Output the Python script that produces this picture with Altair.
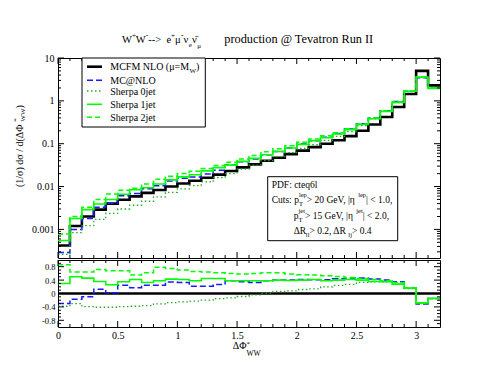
import altair as alt
import pandas as pd

FONT = "'Liberation Serif', 'Times New Roman', Times, serif"

# ---------------- data ----------------
bin_lo = [0.0, 0.1, 0.2, 0.3, 0.4, 0.5, 0.6, 0.7, 0.8, 0.9, 1.0, 1.1, 1.2, 1.3, 1.4, 1.5,
          1.6, 1.7, 1.8, 1.9, 2.0, 2.1, 2.2, 2.3, 2.4, 2.5, 2.6, 2.7, 2.8, 2.9, 3.0, 3.1]
x_end = 3.2

mcfm = [0.00042, 0.0012, 0.0020, 0.0029, 0.0040, 0.0049, 0.0059, 0.0071, 0.0083, 0.0100,
        0.0118, 0.0137, 0.0160, 0.0190, 0.0230, 0.0280, 0.0330, 0.0400, 0.0470, 0.0570,
        0.0690, 0.0830, 0.100, 0.120, 0.150, 0.200, 0.280, 0.420, 0.720, 1.45, 5.0, 2.3]
mcnlo = [0.00029, 0.0010, 0.0018, 0.0033, 0.0041, 0.0061, 0.0069, 0.0089, 0.0104, 0.0134,
         0.0157, 0.0167, 0.0195, 0.0241, 0.0317, 0.0378, 0.0439, 0.0552, 0.0658, 0.0798,
         0.0980, 0.117, 0.141, 0.173, 0.219, 0.292, 0.400, 0.588, 0.972, 1.68, 3.45, 1.96]
sherpa0 = [0.00026, 0.00084, 0.00122, 0.00171, 0.00236, 0.00299, 0.00366, 0.00454, 0.00573, 0.0073,
           0.00885, 0.01055, 0.0128, 0.0162, 0.0200, 0.0255, 0.0317, 0.0404, 0.0498, 0.0616,
           0.0773, 0.0946, 0.120, 0.149, 0.191, 0.266, 0.378, 0.567, 0.914, 1.67, 3.5, 1.96]
sherpa1 = [0.00055, 0.0018, 0.0029, 0.0039, 0.0050, 0.0066, 0.0084, 0.0094, 0.0115, 0.0143,
           0.0168, 0.0189, 0.0232, 0.0276, 0.0317, 0.0386, 0.0455, 0.0552, 0.0658, 0.0792,
           0.0966, 0.118, 0.138, 0.168, 0.213, 0.280, 0.381, 0.567, 0.922, 1.68, 3.6, 1.96]
sherpa2 = [0.00078, 0.0020, 0.0033, 0.0050, 0.0067, 0.0082, 0.0091, 0.0115, 0.0148, 0.0175,
           0.0201, 0.0227, 0.0262, 0.0308, 0.0368, 0.0442, 0.0528, 0.0648, 0.0761, 0.0901,
           0.108, 0.129, 0.153, 0.181, 0.222, 0.290, 0.398, 0.580, 0.958, 1.70, 3.6, 1.98]

r_mcnlo = [-0.30, -0.17, -0.10, 0.13, 0.02, 0.25, 0.17, 0.25, 0.25, 0.34, 0.33, 0.22, 0.22, 0.27, 0.38, 0.35,
           0.33, 0.38, 0.40, 0.40, 0.42, 0.41, 0.41, 0.44, 0.46, 0.46, 0.43, 0.40, 0.35, 0.16, -0.31, -0.15]
r_sherpa0 = [-0.38, -0.30, -0.39, -0.41, -0.41, -0.39, -0.38, -0.36, -0.31, -0.27, -0.25, -0.23, -0.20, -0.15, -0.13, -0.09,
             -0.04, 0.01, 0.06, 0.08, 0.12, 0.14, 0.20, 0.24, 0.27, 0.33, 0.35, 0.35, 0.27, 0.15, -0.30, -0.15]
r_sherpa1 = [0.30, 0.50, 0.46, 0.36, 0.26, 0.35, 0.42, 0.33, 0.38, 0.43, 0.42, 0.38, 0.45, 0.45, 0.38, 0.38,
             0.38, 0.38, 0.40, 0.39, 0.40, 0.42, 0.38, 0.40, 0.42, 0.40, 0.36, 0.35, 0.28, 0.16, -0.28, -0.15]
r_sherpa2 = [0.86, 0.64, 0.64, 0.72, 0.68, 0.68, 0.55, 0.62, 0.78, 0.75, 0.70, 0.66, 0.64, 0.62, 0.60, 0.58,
             0.60, 0.62, 0.62, 0.58, 0.56, 0.55, 0.53, 0.51, 0.48, 0.45, 0.42, 0.38, 0.33, 0.17, -0.28, -0.14]

series_names = ["MCFM NLO", "MC@NLO", "Sherpa 0jet", "Sherpa 1jet", "Sherpa 2jet"]

x_major = [0, 0.5, 1, 1.5, 2, 2.5, 3]
x_minor = [0.1, 0.2, 0.3, 0.4, 0.6, 0.7, 0.8, 0.9, 1.1, 1.2, 1.3, 1.4, 1.6, 1.7, 1.8, 1.9,
           2.1, 2.2, 2.3, 2.4, 2.6, 2.7, 2.8, 2.9, 3.1]
y_major = [0.001, 0.01, 0.1, 1, 10]
y_minor = [m * 10.0 ** k for k in range(-4, 1) for m in range(2, 10) if m * 10.0 ** k > 0.000215]
r_major = [-0.8, -0.4, 0, 0.4, 0.8]
r_minor = [-0.9, -0.7, -0.6, -0.5, -0.3, -0.2, -0.1, 0.1, 0.2, 0.3, 0.5, 0.6, 0.7, 0.9]

# ---------------- styles ----------------
STYLE = {
    "MCFM NLO": dict(color="black", strokeWidth=2.6),
    "MC@NLO": dict(color="#1a1aff", strokeWidth=1.5, strokeDash=[6, 3]),
    "Sherpa 0jet": dict(color="#22aa22", strokeWidth=1.3, strokeDash=[1.5, 2.5]),
    "Sherpa 1jet": dict(color="#00ff00", strokeWidth=1.6),
    "Sherpa 2jet": dict(color="#00ff00", strokeWidth=1.5, strokeDash=[5, 3]),
}

W = 382
H_TOP = 200
H_BOT = 67
TOP_O = (57, 58)
BOT_O = (57, 258)

CW = {' ': 0.25, '(': 0.333, ')': 0.333, '*': 0.5, '+': 0.564, ',': 0.25, '-': 0.333, '.': 0.25,
      '/': 0.278, ':': 0.278, '<': 0.564, '=': 0.564, '>': 0.564, '@': 0.921, '|': 0.2,
      'C': 0.667, 'D': 0.722, 'F': 0.556, 'G': 0.722, 'I': 0.333, 'L': 0.611, 'M': 0.889,
      'N': 0.722, 'O': 0.722, 'P': 0.556, 'R': 0.667, 'S': 0.556, 'T': 0.611, 'V': 0.722,
      'W': 0.944, 'a': 0.444, 'c': 0.444, 'd': 0.5, 'e': 0.444, 'h': 0.5, 'i': 0.278,
      'j': 0.278, 'l': 0.278, 'n': 0.5, 'o': 0.5, 'p': 0.5, 'q': 0.5, 'r': 0.333, 's': 0.389,
      't': 0.278, 'u': 0.5, 'v': 0.5, 'Δ': 0.612, 'Φ': 0.763, 'η': 0.5, 'μ': 0.576,
      'ν': 0.5, 'σ': 0.549, '\u0304': 0.0}


def tw(s, size):
    return sum(CW.get(c, 0.5) for c in s) * size


def place(segs, x0, y0, origin, rot=False):
    out = []
    adv = 0.0
    for seg in segs:
        group = seg if isinstance(seg, list) else [seg]
        wmax = 0.0
        for (t, s, dy) in group:
            if rot:
                out.append((t, x0 + dy - origin[0], y0 - adv - origin[1], s, 270))
            else:
                out.append((t, x0 + adv - origin[0], y0 + dy - origin[1], s, 0))
            wmax = max(wmax, tw(t, s))
        adv += wmax
    return out


def txt(t, x, y, size, angle=0):
    return alt.Chart(pd.DataFrame({"t": [t]})).mark_text(
        align="left", baseline="alphabetic", font=FONT, color="black"
    ).encode(x=alt.value(x), y=alt.value(y), text="t:N",
             size=alt.value(size), angle=alt.value(angle))


def steps(vals):
    return pd.DataFrame({"x": bin_lo + [x_end], "y": list(vals) + [vals[-1]]})


def line_layer(vals, name, X, Y):
    st = STYLE[name]
    kw = dict(interpolate="step-after", color=st["color"], strokeWidth=st["strokeWidth"])
    if "strokeDash" in st:
        kw["strokeDash"] = st["strokeDash"]
    return alt.Chart(steps(vals)).mark_line(**kw).encode(x=X, y=Y)


def rule_value(x1, x2, y, st):
    kw = dict(color=st["color"], strokeWidth=st["strokeWidth"])
    if "strokeDash" in st:
        kw["strokeDash"] = st["strokeDash"]
    return alt.Chart(pd.DataFrame({"k": [0]})).mark_rule(**kw).encode(
        x=alt.value(x1), x2=alt.value(x2), y=alt.value(y))


def box(x1, x2, y1, y2, origin):
    return alt.Chart(pd.DataFrame({"k": [0]})).mark_rect(
        fill="white", stroke="black", strokeWidth=1).encode(
        x=alt.value(x1 - origin[0]), x2=alt.value(x2 - origin[0]),
        y=alt.value(y1 - origin[1]), y2=alt.value(y2 - origin[1]))


def tick_layers(X, Y, xmaj, xmin, ymaj, ymin, H):
    layers = []
    for vals, ln in ((xmaj, 6), (xmin, 3)):
        d = pd.DataFrame({"x": vals})
        layers.append(alt.Chart(d).mark_rule(color="black", strokeWidth=1).encode(
            x=X, y=alt.value(H), y2=alt.value(H - ln)))
        layers.append(alt.Chart(d).mark_rule(color="black", strokeWidth=1).encode(
            x=X, y=alt.value(0), y2=alt.value(ln)))
    for vals, ln in ((ymaj, 6), (ymin, 3)):
        d = pd.DataFrame({"y": vals})
        layers.append(alt.Chart(d).mark_rule(color="black", strokeWidth=1).encode(
            y=Y, x=alt.value(0), x2=alt.value(ln)))
        layers.append(alt.Chart(d).mark_rule(color="black", strokeWidth=1).encode(
            y=Y, x=alt.value(W), x2=alt.value(W - ln)))
    return layers


# ---------------- top panel ----------------
xs = alt.Scale(domain=[0, x_end], nice=False, zero=False)
ys_top = alt.Scale(type="log", domain=[0.000215, 10], nice=False)
X_top = alt.X("x:Q", scale=xs, axis=None)
Y_top = alt.Y("y:Q", scale=ys_top, axis=alt.Axis(
    values=y_major, format="~g", ticks=False, domain=False, grid=False,
    labelFont=FONT, labelFontSize=10, labelPadding=4, labelColor="black", title=None))

top_layers = []
for vals, name in zip([mcfm, mcnlo, sherpa0, sherpa1, sherpa2], series_names):
    top_layers.append(line_layer(vals, name, X_top, Y_top))
top_layers += tick_layers(X_top, Y_top, x_major, x_minor, y_major, y_minor, H_TOP)

# legend
top_layers.append(box(81, 204.3, 58, 127, TOP_O))
leg_y = [66.7, 80.3, 91.0, 104.3, 117.3]
leg_labels = [
    [("MCFM NLO (μ=M", 10, 0), ("W", 7, 2.5), (")", 10, 0)],
    [("MC@NLO", 10, 0)],
    [("Sherpa 0jet", 10, 0)],
    [("Sherpa 1jet", 10, 0)],
    [("Sherpa 2jet", 10, 0)],
]
for name, yy, lab in zip(series_names, leg_y, leg_labels):
    top_layers.append(rule_value(86 - TOP_O[0], 101 - TOP_O[0], yy - TOP_O[1], STYLE[name]))
    for o in place(lab, 109.3, yy + 3.5, TOP_O):
        top_layers.append(txt(*o))

# info box
top_layers.append(box(266.7, 396.7, 176.7, 240.7, TOP_O))
info = []
info += place([("PDF: cteq6l", 9.5, 0)], 270.7, 187.5, TOP_O)
info += place([("Cuts: p", 9.5, 0), [("lep", 6.5, -6.5), ("T", 6.5, 3)],
               (" > 20 GeV, |η", 9.5, 0), ("lep", 6.5, -6.5), ("| < 1.0,", 9.5, 0)],
              270.7, 203, TOP_O)
info += place([("p", 9.5, 0), [("jet", 6.5, -6.5), ("T", 6.5, 3)],
               (" > 15 GeV, |η", 9.5, 0), ("jet", 6.5, -6.5), ("| < 2.0,", 9.5, 0)],
              292.7, 219, TOP_O)
info += place([("ΔR", 9.5, 0), ("ll", 6.5, 3), (" > 0.2, ΔR", 9.5, 0), ("lj", 6.5, 3),
               (" > 0.4", 9.5, 0)], 292.7, 233.5, TOP_O)
for o in info:
    top_layers.append(txt(*o))

# title
ttl = place([("W", 10.5, 0), ("+", 7, -5), ("W", 10.5, 0), ("-", 7.5, -5.5), (" --> ", 10.5, 0),
             ("e", 10.5, 0), ("+", 7, -5), ("μ", 10.5, 0), ("-", 7.5, -5.5), ("ν", 10.5, 0),
             ("e", 7, 3.5), ("ν\u0304", 10.5, 0), ("μ", 7, 4.5)], 121, 43, TOP_O)
ttl += place([("production @ Tevatron Run II", 12.3, 0)], 223.3, 43, TOP_O)
for o in ttl:
    top_layers.append(txt(*o))

# y title (rotated)
for o in place([("(1/σ)  dσ / d(ΔΦ", 10, 0), [("*", 7, -4.5), ("WW", 7, 2.5)], (")", 10, 0)],
               21.5, 187, TOP_O, rot=True):
    top_layers.append(txt(*o))

top = alt.layer(*top_layers).properties(width=W, height=H_TOP)

# ---------------- ratio panel ----------------
ys_bot = alt.Scale(domain=[-1, 1], nice=False, zero=False)
X_bot = alt.X("x:Q", scale=xs, axis=alt.Axis(
    values=x_major, format="~g", ticks=False, domain=False, grid=False,
    labelFont=FONT, labelFontSize=10, labelPadding=3, labelColor="black",
    labelFlush=False, title=None))
Y_bot = alt.Y("y:Q", scale=ys_bot, axis=alt.Axis(
    values=r_major, ticks=False, domain=False, grid=False,
    labelExpr="datum.value == 0 ? '0' : (datum.value < 0 ? '-' : '') + format(abs(datum.value), '.1f')",
    labelFont=FONT, labelFontSize=8.5, labelPadding=3, labelColor="black", title=None))

bot_layers = []
bot_layers.append(alt.Chart(pd.DataFrame({"y": [0]})).mark_rule(
    color="black", strokeWidth=2.6).encode(y=Y_bot, x=alt.value(0), x2=alt.value(W)))
for vals, name in zip([r_mcnlo, r_sherpa0, r_sherpa1, r_sherpa2], series_names[1:]):
    bot_layers.append(line_layer(vals, name, X_bot, Y_bot))
bot_layers += tick_layers(X_bot, Y_bot, x_major, x_minor, r_major, r_minor, H_BOT)

for o in place([("ΔΦ", 10, 0), [("*", 7, -3), ("WW", 7.5, 7.5)]], 231.7, 346.5, BOT_O):
    bot_layers.append(txt(*o))

bottom = alt.layer(*bot_layers).properties(width=W, height=H_BOT)

chart = alt.vconcat(top, bottom, spacing=0).properties(
    padding={"left": 3, "top": 23, "right": 5, "bottom": 5},
    background="white",
).configure_view(stroke="black", strokeWidth=1)

chart.save("out.html", embed_options={"renderer": "svg", "actions": False})
